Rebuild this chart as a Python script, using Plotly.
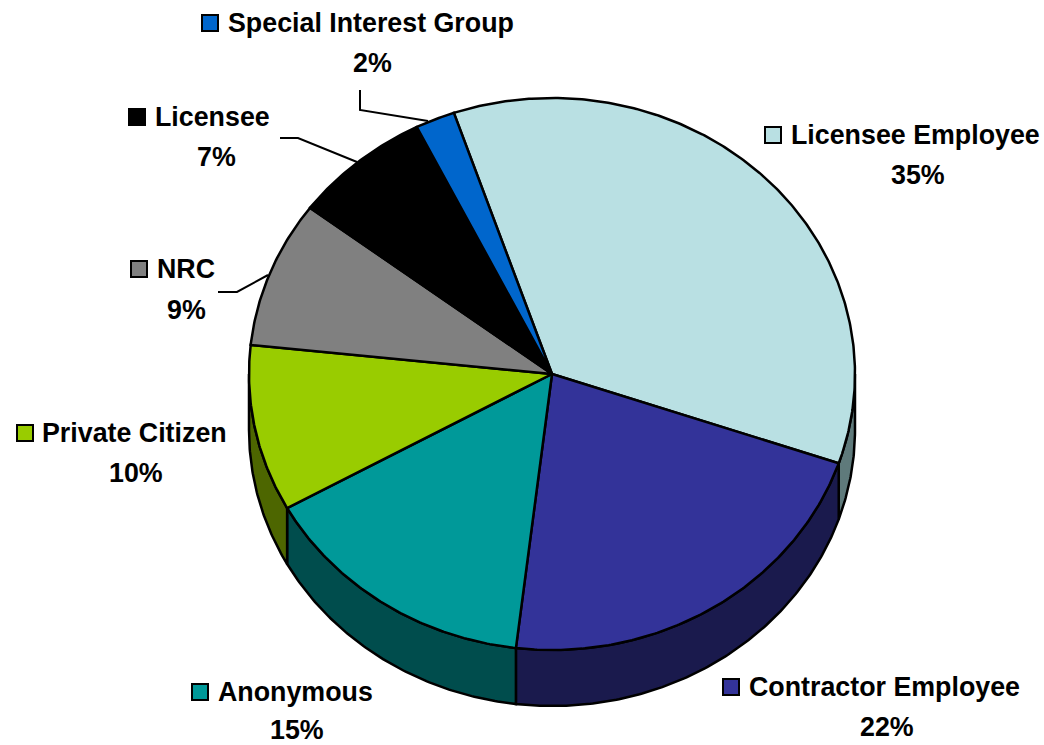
import math
import plotly.graph_objects as go

categories = ["Licensee Employee", "Contractor Employee", "Anonymous", "Private Citizen",
              "NRC", "Licensee", "Special Interest Group"]
values = [35.49, 21.66, 15.03, 9.75, 8.6, 7.36, 2.11]
percent_labels = ["35%", "22%", "15%", "10%", "9%", "7%", "2%"]

top_colors = ["#B9E0E3", "#333399", "#009999", "#99CC00", "#808080", "#000000", "#0066CC"]
side_colors = ["#5F7A7B", "#1A1A4D", "#004D4D", "#4D6600", "#404040", "#000000", "#003366"]

# Pie geometry in page pixels
CX, CY, RX, RY, DEPTH = 552, 374, 303, 276, 56
START_ANGLE = -18.9

# Label layout: key centre, text left edge, percent centre
key_pos = [(773, 135), (731, 687), (200, 692), (25, 433), (139, 269), (137, 117), (210, 23)]
name_x = [789, 747, 216, 40, 155, 153, 226]
pct_pos = [(918, 175), (887, 727), (297, 730), (136, 473), (186, 310), (216, 157), (372, 63)]

leaders = [
    ([360, 360, 428], [90, 110, 121]),
    ([280, 298, 357], [138, 138, 162]),
    ([218, 237, 268], [292, 292, 275]),
]

FONT = "Liberation Sans, Arial, sans-serif"
FS = 26.8
LW = 2.5


def rim(a0, a1, dy=0.0):
    n = max(2, int(abs(a1 - a0) * 2))
    xs, ys = [], []
    for i in range(n + 1):
        a = math.radians(a0 + (a1 - a0) * i / n)
        xs.append(CX + RX * math.sin(a))
        ys.append(CY - RY * math.cos(a) + dy)
    return xs, ys


edges = []
a = START_ANGLE
for v in values:
    edges.append((a, a + v * 3.6))
    a += v * 3.6

fig = go.Figure()

# Visible side wall: rim angles between 90 and 270 degrees
for (a0, a1), col, cat in zip(edges, side_colors, categories):
    lo, hi = max(a0, 90), min(a1, 270)
    if hi <= lo:
        continue
    tx, ty = rim(lo, hi)
    bx, by = rim(lo, hi, DEPTH)
    fig.add_trace(go.Scatter(
        x=tx + bx[::-1] + [tx[0]], y=ty + by[::-1] + [ty[0]],
        mode="lines", fill="toself", fillcolor=col,
        line=dict(color="#000000", width=LW), hoverinfo="skip", showlegend=False,
    ))

# Top face
for (a0, a1), col, cat, v in zip(edges, top_colors, categories, values):
    rx_, ry_ = rim(a0, a1)
    fig.add_trace(go.Scatter(
        x=[CX] + rx_ + [CX], y=[CY] + ry_ + [CY],
        mode="lines", fill="toself", fillcolor=col, name=cat,
        line=dict(color="#000000", width=LW), text=f"{cat}: {v}%", hoverinfo="text",
        showlegend=False,
    ))

# Leader lines
for lx, ly in leaders:
    fig.add_trace(go.Scatter(x=lx, y=ly, mode="lines", line=dict(color="#000000", width=2),
                             hoverinfo="skip", showlegend=False))

# Label keys
fig.add_trace(go.Scatter(
    x=[p[0] for p in key_pos], y=[p[1] for p in key_pos], mode="markers",
    marker=dict(symbol="square", size=16, color=top_colors, line=dict(color="#000000", width=2)),
    hoverinfo="skip", showlegend=False,
))

# Label text
for cat, pct, nx, kp, pp in zip(categories, percent_labels, name_x, key_pos, pct_pos):
    fig.add_annotation(x=nx, y=kp[1], text=f"<b>{cat}</b>", showarrow=False, xanchor="left",
                       yanchor="middle", font=dict(family=FONT, size=FS, color="#000000"))
    fig.add_annotation(x=pp[0], y=pp[1], text=f"<b>{pct}</b>", showarrow=False, xanchor="center",
                       yanchor="middle", font=dict(family=FONT, size=FS, color="#000000"))

fig.update_layout(
    width=1044, height=745, margin=dict(l=0, r=0, t=0, b=0),
    paper_bgcolor="#FFFFFF", plot_bgcolor="#FFFFFF",
    xaxis=dict(range=[0, 1044], visible=False, fixedrange=True),
    yaxis=dict(range=[745, 0], visible=False, fixedrange=True),
)

fig.write_html("out.html", post_script="document.body.style.margin='0';document.body.style.overflow='hidden';",
               config={"displayModeBar": False})
